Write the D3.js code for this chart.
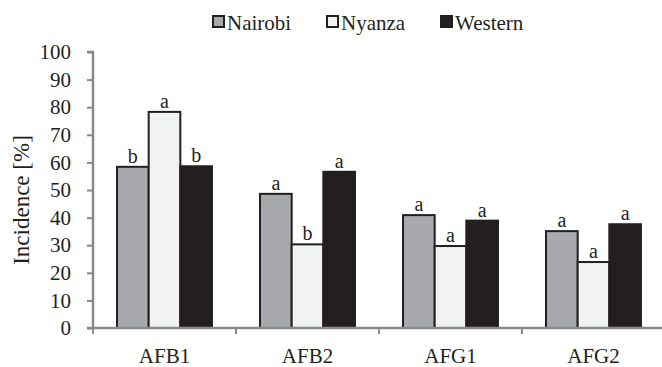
<!DOCTYPE html>
<html>
<head>
<meta charset="utf-8">
<script src="https://cdn.jsdelivr.net/npm/d3@7"></script>
<style>
  body { margin: 0; background: #fff; }
  svg text { font-family: "Liberation Serif", "Times New Roman", Times, serif; }
</style>
</head>
<body>
<svg id="chart" width="662" height="367"></svg>
<script>
// Data
const toxins = ['AFB1', 'AFB2', 'AFG1', 'AFG2'];
const regions = ['Nairobi', 'Nyanza', 'Western'];
const nairobi = [58.4, 48.6, 40.9, 35.1];
const nyanza = [78.3, 30.3, 29.7, 23.9];
const western = [58.6, 56.6, 38.9, 37.6];
const nairobiLetters = ['b', 'a', 'a', 'a'];
const nyanzaLetters = ['a', 'b', 'a', 'a'];
const westernLetters = ['b', 'a', 'a', 'a'];
const yTicks = [0, 10, 20, 30, 40, 50, 60, 70, 80, 90, 100];

const seriesValues = [nairobi, nyanza, western];
const seriesLetters = [nairobiLetters, nyanzaLetters, westernLetters];
const fills = ['#a7a9ac', '#f1f2f2', '#231f20'];
const dark = '#231f20';
const axisGrey = '#8a8a8a';
const serif = 'Liberation Serif, Times New Roman, Times, serif';

const svg = d3.select('#chart');

// Plot area
const plotLeft = 93, plotRight = 665, plotTop = 52, plotBottom = 328;

const x = d3.scaleBand()
    .domain(toxins)
    .range([plotLeft, plotRight])
    .paddingInner(0.336)
    .paddingOuter(0.168);

const xSub = d3.scaleBand()
    .domain(regions)
    .range([0, x.bandwidth()]);

const y = d3.scaleLinear()
    .domain([0, 100])
    .range([plotBottom, plotTop]);

// Flatten into rows for drawing
const rows = [];
toxins.forEach((t, i) => {
    regions.forEach((r, j) => {
        rows.push({ toxin: t, region: r, value: seriesValues[j][i], letter: seriesLetters[j][i], idx: j });
    });
});

// Bars
svg.append('g')
    .selectAll('rect')
    .data(rows)
    .enter()
    .append('rect')
    .attr('x', d => x(d.toxin) + xSub(d.region))
    .attr('y', d => y(d.value))
    .attr('width', xSub.bandwidth())
    .attr('height', d => y(0) - y(d.value))
    .attr('fill', d => fills[d.idx])
    .attr('stroke', dark)
    .attr('stroke-width', 2);

// Letters above bars
svg.append('g')
    .selectAll('text')
    .data(rows)
    .enter()
    .append('text')
    .attr('x', d => x(d.toxin) + xSub(d.region) + xSub.bandwidth() / 2)
    .attr('y', d => y(d.value) - 4)
    .attr('text-anchor', 'middle')
    .attr('font-family', serif)
    .attr('font-size', 20)
    .attr('fill', dark)
    .text(d => d.letter);

// Y axis
const yAxis = svg.append('g')
    .attr('transform', `translate(${plotLeft},0)`)
    .call(d3.axisLeft(y).tickValues(yTicks).tickSize(6).tickPadding(16))
    .attr('font-family', serif);
yAxis.select('.domain').attr('stroke', axisGrey).attr('stroke-width', 2.5)
    .attr('d', `M-6,${plotTop}H0V${plotBottom}`);
yAxis.selectAll('.tick line').attr('stroke', axisGrey).attr('stroke-width', 2);
yAxis.selectAll('.tick text')
    .attr('font-size', 21)
    .attr('font-family', serif)
    .attr('fill', dark);

// X axis: line with ticks at category boundaries
const xAxisG = svg.append('g');
xAxisG.append('line')
    .attr('x1', plotLeft - 6).attr('x2', 662)
    .attr('y1', plotBottom).attr('y2', plotBottom)
    .attr('stroke', axisGrey).attr('stroke-width', 2.5);
const boundaries = toxins.map(t => x(t) - x.step() * x.paddingInner() / 2);
xAxisG.selectAll('line.bt')
    .data(boundaries)
    .enter()
    .append('line')
    .attr('class', 'bt')
    .attr('x1', d => d).attr('x2', d => d)
    .attr('y1', plotBottom).attr('y2', plotBottom + 6)
    .attr('stroke', axisGrey).attr('stroke-width', 2);
xAxisG.selectAll('text')
    .data(toxins)
    .enter()
    .append('text')
    .attr('x', d => x(d) + x.bandwidth() / 2)
    .attr('y', 363)
    .attr('text-anchor', 'middle')
    .attr('font-family', serif)
    .attr('font-size', 21)
    .attr('fill', dark)
    .text(d => d);

// Y axis title
svg.append('text')
    .attr('transform', 'translate(29,200) rotate(-90)')
    .attr('text-anchor', 'middle')
    .attr('font-family', serif)
    .attr('font-size', 23)
    .attr('fill', dark)
    .text('Incidence [%]');

// Legend
const legendX = [213, 327, 441];
const legend = svg.append('g');
regions.forEach((r, i) => {
    legend.append('rect')
        .attr('x', legendX[i]).attr('y', 16)
        .attr('width', 11).attr('height', 11)
        .attr('fill', fills[i])
        .attr('stroke', dark)
        .attr('stroke-width', 2);
    legend.append('text')
        .attr('x', legendX[i] + 14)
        .attr('y', 30)
        .attr('font-family', serif)
        .attr('font-size', 21)
        .attr('fill', dark)
        .text(r);
});
</script>
</body>
</html>
